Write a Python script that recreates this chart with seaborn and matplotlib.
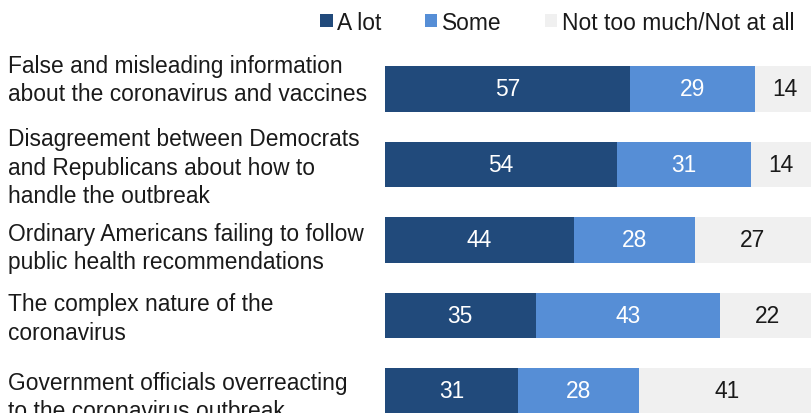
import matplotlib
matplotlib.use("Agg")
import matplotlib.pyplot as plt
from matplotlib.patches import Patch
import numpy as np
import pandas as pd
import seaborn as sns

# --- data -------------------------------------------------------------
categories = [
    "False and misleading information\nabout the coronavirus and vaccines",
    "Disagreement between Democrats\nand Republicans about how to\nhandle the outbreak",
    "Ordinary Americans failing to follow\npublic health recommendations",
    "The complex nature of the\ncoronavirus",
    "Government officials overreacting\nto the coronavirus outbreak",
]
a_lot = [57, 54, 44, 35, 31]
some = [29, 31, 28, 43, 28]
not_much = [14, 14, 27, 22, 41]
series_names = ["A lot", "Some", "Not too much/Not at all"]

# --- style ------------------------------------------------------------
sns.set_theme(style="white")
FONT = ["Liberation Sans", "DejaVu Sans"]
plt.rcParams["font.family"] = FONT
TEXT = "#1a1a1a"
C_DARK, C_MID, C_LIGHT = "#214A7B", "#568ED6", "#F0F0F0"
FS = 16.4

W, H, DPI = 811, 414, 100
fig = plt.figure(figsize=(W / DPI, H / DPI), dpi=DPI)
ax = fig.add_axes([385 / W, -0.1292, 430 / W, 1.0942])

df = pd.DataFrame({
    "cat": categories,
    "a_lot": a_lot,
    "some": some,
    "not_much": not_much,
})
df["cum2"] = df["a_lot"] + df["some"]
df["cum3"] = df["cum2"] + df["not_much"]

bar_h = 0.6
# stacked bars: longest first, shorter ones drawn on top
for col, color in [("cum3", C_LIGHT), ("cum2", C_MID), ("a_lot", C_DARK)]:
    sns.barplot(data=df, y="cat", x=col, orient="h", color=color,
                width=bar_h, saturation=1, ax=ax, linewidth=0)

ax.set_xlim(0, 100)
ax.set_ylim(5, -1)
ax.axis("off")

# value labels centred in each segment
for i in range(len(categories)):
    left = 0
    for val, tc in [(a_lot[i], "white"), (some[i], "white"), (not_much[i], TEXT)]:
        ax.text(left + val / 2, i, str(val), ha="center", va="center",
                fontsize=FS, color=tc)
        left += val

# category labels, left aligned at the figure's left edge
LINE_PX = 26.5
label_shift = [-15, -15, 2, -3, 0]  # first-line baseline offset from bar centre, px
for i, lab in enumerate(categories):
    n_lines = lab.count("\n")
    dy = label_shift[i] + n_lines * LINE_PX  # baseline of the last line
    ax.annotate(lab, xy=(8, i), xycoords=("figure pixels", "data"),
                xytext=(0, -dy), textcoords="offset pixels",
                ha="left", va="baseline", fontsize=FS, color=TEXT,
                linespacing=1.32, annotation_clip=False)

# legend across the top
handles = [Patch(facecolor=c, edgecolor="none") for c in (C_DARK, C_MID, C_LIGHT)]
fig.legend(handles, series_names, loc="center left",
           bbox_to_anchor=(320 / W, 1 - 23 / H), ncol=3, frameon=False,
           fontsize=FS, handlelength=0.55, handleheight=0.55,
           handletextpad=0.2, columnspacing=1.9, borderaxespad=0,
           borderpad=0, labelcolor=TEXT)

fig.savefig("out.png", dpi=DPI)
